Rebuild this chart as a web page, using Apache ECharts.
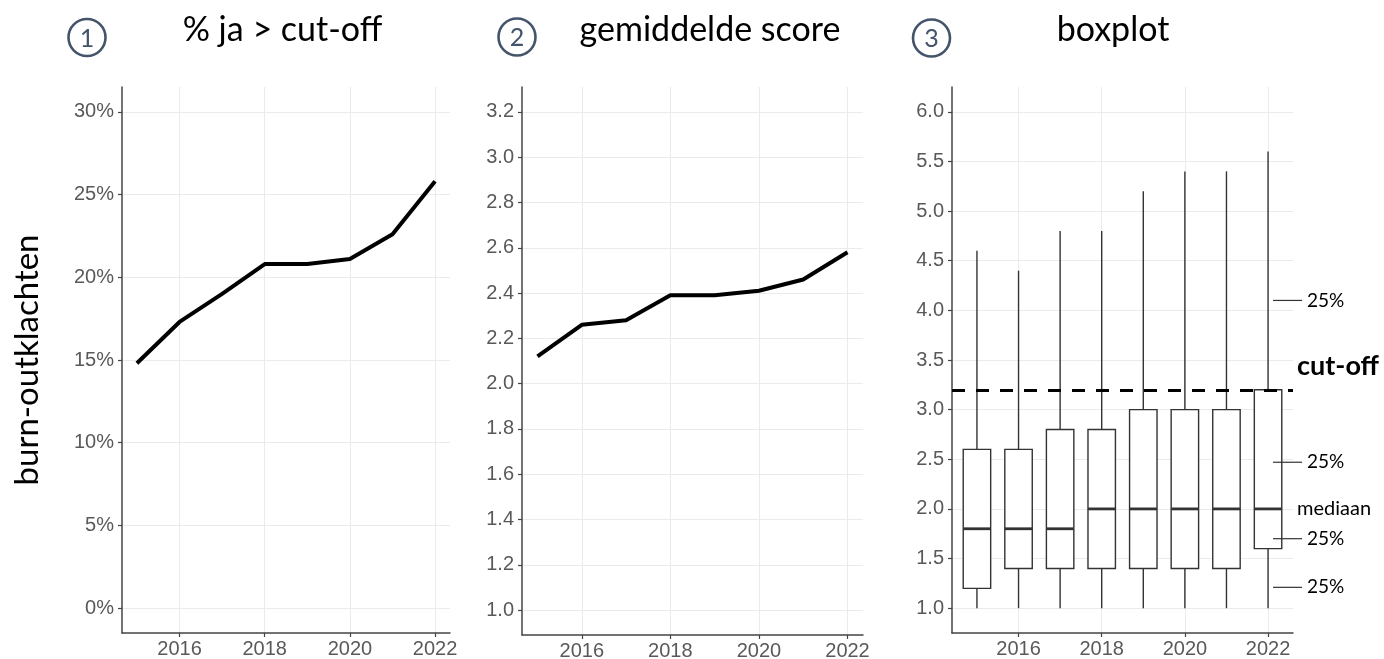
<!DOCTYPE html>
<html>
<head>
<meta charset="utf-8">
<title>burn-outklachten</title>
<script src="https://cdn.jsdelivr.net/npm/echarts@6/dist/echarts.min.js"></script>
<style>
	html,body{margin:0;padding:0;background:#ffffff;}
	#main{width:1384px;height:659px;}
</style>
</head>
<body>
<div id="main"></div>
<script>
//jaren
var years=[2015,2016,2017,2018,2019,2020,2021,2022];
var yearTicks=[2016,2018,2020,2022];

//1: % ja > cut-off
var pctAboveCutoff=[14.8,17.3,19.0,20.8,20.8,21.1,22.6,25.8];
var pctTicks=[0,5,10,15,20,25,30];

//2: gemiddelde score
var meanScore=[2.12,2.26,2.28,2.39,2.39,2.41,2.46,2.58];
var scoreTicks=[1.0,1.2,1.4,1.6,1.8,2.0,2.2,2.4,2.6,2.8,3.0,3.2];

//3: boxplot
var boxMin=[1.0,1.0,1.0,1.0,1.0,1.0,1.0,1.0];
var boxQ1=[1.2,1.4,1.4,1.4,1.4,1.4,1.4,1.6];
var boxMedian=[1.8,1.8,1.8,2.0,2.0,2.0,2.0,2.0];
var boxQ3=[2.6,2.6,2.8,2.8,3.0,3.0,3.0,3.2];
var boxMax=[4.6,4.4,4.8,4.8,5.2,5.4,5.4,5.6];
var boxTicks=[1.0,1.5,2.0,2.5,3.0,3.5,4.0,4.5,5.0,5.5,6.0];
var cutoff=3.2;

//toelichting rechts van de boxplot
var noteValues=[4.1,2.47,1.7,1.21];
var noteLabels=['25%','25%','25%','25%'];
var textValues=[3.44,2.0];
var textLabels=['cut-off','mediaan'];

var TEXT_FONT='Lato, "Noto Sans", sans-serif';
var AXIS_FONT='"Liberation Sans", Arial, sans-serif';
var CIRCLE_COLOR='#44546a';

var chart=echarts.init(document.getElementById('main'));

function pairs(xs,ys){
	var out=[];
	for(var i=0;i<xs.length;i++){
		out.push([xs[i],ys[i]]);
	}
	return out;
}

function makeXAxis(gridIndex,min,max){
	return {
		type:'value',gridIndex:gridIndex,min:min,max:max,
		axisLine:{show:true,onZero:false,lineStyle:{color:'#444444',width:1.5}},
		axisTick:{show:true,length:4,customValues:yearTicks,lineStyle:{color:'#444444',width:1.2}},
		axisLabel:{customValues:yearTicks,color:'#595959',fontSize:20,fontFamily:AXIS_FONT,margin:6,
			formatter:function(v){return String(v);}},
		splitLine:{show:true,lineStyle:{color:'#ebebeb',width:1}}
	};
}

function makeYAxis(gridIndex,min,max,ticks,fmt){
	return {
		type:'value',gridIndex:gridIndex,min:min,max:max,
		axisLine:{show:true,onZero:false,lineStyle:{color:'#444444',width:1.5}},
		axisTick:{show:true,length:4,customValues:ticks,lineStyle:{color:'#444444',width:1.2}},
		axisLabel:{customValues:ticks,color:'#595959',fontSize:20,fontFamily:AXIS_FONT,margin:8,formatter:fmt},
		splitLine:{show:true,lineStyle:{color:'#ebebeb',width:1}}
	};
}

//boxplot in ggplot-stijl (geen dwarsstreepjes aan de snorharen)
function renderBox(params,api){
	var x=api.value(0);
	var pMin=api.coord([x,api.value(1)]);
	var pQ1=api.coord([x,api.value(2)]);
	var pMed=api.coord([x,api.value(3)]);
	var pQ3=api.coord([x,api.value(4)]);
	var pMax=api.coord([x,api.value(5)]);
	var half=api.size([0.66,0])[0]/2;
	var stroke={stroke:'#333333',lineWidth:1.4};
	return {
		type:'group',
		children:[
			{type:'line',shape:{x1:pMin[0],y1:pMin[1],x2:pQ1[0],y2:pQ1[1]},style:stroke},
			{type:'line',shape:{x1:pQ3[0],y1:pQ3[1],x2:pMax[0],y2:pMax[1]},style:stroke},
			{type:'rect',shape:{x:pQ3[0]-half,y:pQ3[1],width:half*2,height:pQ1[1]-pQ3[1]},
				style:{fill:'#ffffff',stroke:'#333333',lineWidth:1.4}},
			{type:'line',shape:{x1:pMed[0]-half,y1:pMed[1],x2:pMed[0]+half,y2:pMed[1]},
				style:{stroke:'#333333',lineWidth:2.8}}
		]
	};
}

function renderNote(params,api){
	var p=api.coord([api.value(0),api.value(1)]);
	return {
		type:'group',
		children:[
			{type:'line',shape:{x1:p[0]+5,y1:p[1],x2:p[0]+34,y2:p[1]},style:{stroke:'#333333',lineWidth:1.2}},
			{type:'text',x:p[0]+39,y:p[1],style:{text:noteLabels[params.dataIndex],fill:'#000000',
				font:'19px '+TEXT_FONT,verticalAlign:'middle',align:'left'}}
		]
	};
}

function renderText(params,api){
	var p=api.coord([api.value(0),api.value(1)]);
	var bold=params.dataIndex==0;
	return {
		type:'text',x:p[0]+29,y:p[1],
		style:{text:textLabels[params.dataIndex],fill:'#000000',
			font:(bold?'bold 27px ':'20px ')+TEXT_FONT,verticalAlign:'middle',align:'left'}
	};
}

var boxData=[];
for(var i=0;i<years.length;i++){
	boxData.push([years[i],boxMin[i],boxQ1[i],boxMedian[i],boxQ3[i],boxMax[i]]);
}
var lastYear=years[years.length-1];
var noteData=noteValues.map(function(v){return [lastYear,v];});
var textData=textValues.map(function(v){return [lastYear,v];});

//nummers en titels boven de panelen
function circled(cx,cy,n){
	return [
		{type:'circle',shape:{cx:cx,cy:cy,r:18.5},style:{fill:'none',stroke:CIRCLE_COLOR,lineWidth:2.6}},
		{type:'text',x:cx,y:cy+1,style:{text:n,fill:CIRCLE_COLOR,font:'25px '+TEXT_FONT,align:'center',verticalAlign:'middle'}}
	];
}
function titleText(cx,text){
	return {type:'text',x:cx,y:30,style:{text:text,fill:'#000000',font:'34px '+TEXT_FONT,align:'center',verticalAlign:'middle'}};
}
var graphics=[]
	.concat(circled(87,37.5,'1'))
	.concat(circled(517,37,'2'))
	.concat(circled(931.5,38,'3'))
	.concat([titleText(282.5,'% ja > cut-off'),titleText(710,'gemiddelde score'),titleText(1113,'boxplot')]);

var yAxis1=makeYAxis(0,-1.5,31.5,pctTicks,function(v){return v+'%';});
yAxis1.name='burn-outklachten';
yAxis1.nameLocation='middle';
yAxis1.nameRotate=90;
yAxis1.nameGap=78;
yAxis1.nameTextStyle={fontFamily:TEXT_FONT,fontSize:33,color:'#000000'};

var option={
	backgroundColor:'#ffffff',
	animation:false,
	graphic:graphics,
	grid:[
		{left:122,top:87,width:328,height:546,outerBoundsMode:'none'},
		{left:522,top:87,width:341,height:548,outerBoundsMode:'none'},
		{left:952,top:87,width:341,height:546,outerBoundsMode:'none'}
	],
	xAxis:[
		makeXAxis(0,2014.65,2022.35),
		makeXAxis(1,2014.65,2022.35),
		makeXAxis(2,2014.4,2022.6)
	],
	yAxis:[
		yAxis1,
		makeYAxis(1,0.89,3.31,scoreTicks,function(v){return v.toFixed(1);}),
		makeYAxis(2,0.75,6.25,boxTicks,function(v){return v.toFixed(1);})
	],
	series:[
		{
			name:'% ja > cut-off',type:'line',xAxisIndex:0,yAxisIndex:0,
			data:pairs(years,pctAboveCutoff),symbol:'none',
			lineStyle:{color:'#000000',width:4}
		},
		{
			name:'gemiddelde score',type:'line',xAxisIndex:1,yAxisIndex:1,
			data:pairs(years,meanScore),symbol:'none',
			lineStyle:{color:'#000000',width:4}
		},
		{
			name:'boxplot',type:'custom',xAxisIndex:2,yAxisIndex:2,
			renderItem:renderBox,data:boxData,
			encode:{x:0,y:[1,2,3,4,5]},
			markLine:{
				silent:true,symbol:['none','none'],label:{show:false},
				lineStyle:{color:'#000000',width:3.2,type:[13,11]},
				data:[{yAxis:cutoff}]
			}
		},
		{
			name:'toelichting',type:'custom',xAxisIndex:2,yAxisIndex:2,clip:false,
			renderItem:renderNote,data:noteData
		},
		{
			name:'labels',type:'custom',xAxisIndex:2,yAxisIndex:2,clip:false,
			renderItem:renderText,data:textData
		}
	]
};

chart.setOption(option);
</script>
</body>
</html>
